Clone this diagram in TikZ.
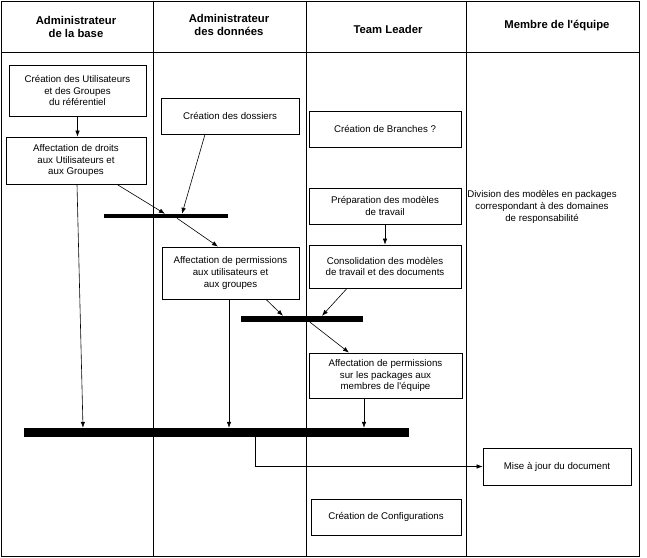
\documentclass[tikz,border=0pt]{standalone}
\usepackage{fontspec}
\setmainfont{Liberation Sans}
\usetikzlibrary{arrows.meta}
\tikzset{
  box/.style={draw, line width=0.8pt, inner sep=0pt, align=center,
    font=\fontsize{9.7}{11.7}\selectfont},
  bar/.style={fill=black, draw=none, inner sep=0pt},
  conn/.style={line width=0.6pt, -{Latex[length=6pt,width=4.5pt]}},
  head/.style={align=center, font=\fontsize{11.3}{12.7}\selectfont\bfseries},
  lane/.style={line width=0.9pt},
}
\begin{document}
\begin{tikzpicture}[x=1pt,y=-1pt]
\useasboundingbox (0,0) rectangle (647,557);
% frame and lanes
\draw[lane] (1,1) rectangle (639,556);
\draw[lane] (1,52) -- (639,52);
\draw[lane] (153,1) -- (153,556);
\draw[lane] (306,1) -- (306,556);
\draw[lane] (466,1) -- (466,556);
% headers
\node[head] (h1) at (76,27) {Administrateur\\de la base};
\node[head] (h2) at (229,25) {Administrateur\\des données};
\node[head] (h3) at (388,29) {Team Leader};
\node[head] (h4) at (557,26) {Membre de l\textquotesingle équipe};
% boxes
\node[box, minimum width=137pt, minimum height=51pt] (b1) at (77.5,90.5) {Création des Utilisateurs\\et des Groupes\\du référentiel};
\node[box, minimum width=140pt, minimum height=47pt] (b2) at (76,160.5) {Affectation de droits\\aux Utilisateurs et\\aux Groupes};
\node[box, minimum width=138pt, minimum height=36pt] (b3) at (230,116) {Création des dossiers};
\node[box, minimum width=152pt, minimum height=36pt] (b4) at (385,129) {Création de Branches ?};
\node[box, minimum width=152pt, minimum height=36pt] (b5) at (385,206) {Préparation des modèles\\de travail};
\node[box, minimum width=152pt, minimum height=43pt] (b6) at (385,266.5) {Consolidation des modèles\\de travail et des documents};
\node[box, minimum width=137pt, minimum height=52pt] (b7) at (230.5,273) {Affectation de permissions\\aux utilisateurs et\\aux groupes};
\node[box, minimum width=153pt, minimum height=45pt] (b8) at (385.5,375.5) {Affectation de permissions\\sur les packages aux\\membres de l\textquotesingle équipe};
\node[box, minimum width=148pt, minimum height=37pt] (b9) at (557,466.5) {Mise à jour du document};
\node[box, minimum width=150pt, minimum height=36pt] (b10) at (386,517) {Création de Configurations};
\node[align=center, font=\fontsize{9.7}{11.7}\selectfont] (t1) at (542,207) {Division des modèles en packages\\correspondant à des domaines\\de responsabilité};
% bars
\node[bar, minimum width=124pt, minimum height=4pt] (bar1) at (166,216) {};
\node[bar, minimum width=122pt, minimum height=6pt] (bar2) at (302,319) {};
\node[bar, minimum width=385pt, minimum height=9pt] (bar3) at (216.5,432.5) {};
% connectors
\draw[conn] (b1.south) -- (b1.south |- b2.north);
\draw[conn] ([xshift=41pt]b2.south) -- ([xshift=-1pt]bar1.north);
\draw[conn] ([xshift=-25pt]b3.south) -- ([xshift=16pt]bar1.north);
\draw[conn] ([xshift=11pt]bar1.south) -- ([xshift=-12.5pt]b7.north);
\draw[conn] ([xshift=1pt]b2.south) -- ([xshift=-133.5pt]bar3.north);
\draw[conn] ([xshift=-1.5pt]b7.south) -- ([xshift=-1.5pt]b7.south |- bar3.north);
\draw[conn] ([xshift=35.5pt]b7.south) -- ([xshift=-19pt]bar2.north);
\draw[conn] ([xshift=-38pt]b6.south) -- ([xshift=20pt]bar2.north);
\draw[conn] ([xshift=8pt]bar2.south) -- ([xshift=-36.5pt]b8.north);
\draw[conn] ([xshift=-21.5pt]b8.south) -- ([xshift=-21.5pt]b8.south |- bar3.north);
\draw[conn] (b5.south) -- (b6.north);
\draw[conn] ([xshift=38.5pt]bar3.south) |- (b9.west);
\end{tikzpicture}
\end{document}
